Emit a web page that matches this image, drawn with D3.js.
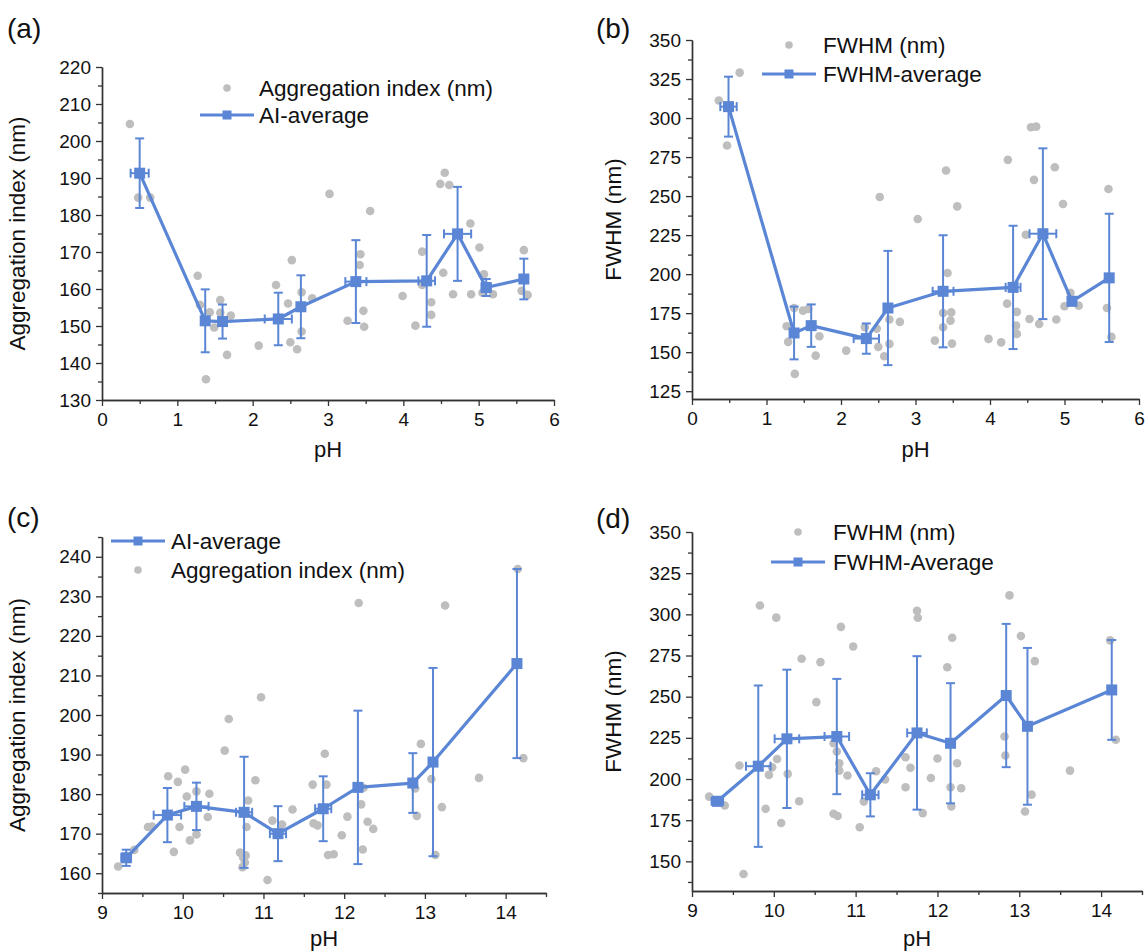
<!DOCTYPE html>
<html>
<head>
<meta charset="utf-8">
<script src="https://cdn.jsdelivr.net/npm/d3@7"></script>
<style>
  body { margin: 0; background: #fff; }
  svg { font-family: "Liberation Sans", Arial, sans-serif; }
</style>
</head>
<body>
<svg id="fig" width="1145" height="952"></svg>
<script>
// ---------- (a) aggregation index, acidic range ----------
const aScatX = [0.37,0.48,0.64,1.27,1.3,1.43,1.49,1.38,1.57,1.57,1.71,1.66,2.08,2.31,2.52,2.47,2.5,2.59,2.65,2.65,2.79,3.02,3.56,3.43,3.42,3.47,3.48,3.26,3.99,4.16,4.25,4.25,4.37,4.37,4.53,4.55,4.49,4.61,4.66,4.89,5.01,4.9,5.07,5.05,5.19,5.6,5.57,5.65];
const aScatY = [204.6,184.7,184.7,163.6,155.7,153.7,149.6,135.6,157,153.6,152.8,142.2,144.7,161.1,167.8,156.1,145.6,143.7,159.1,148.5,157.5,185.7,181.1,169.4,166.5,154.1,149.8,151.4,158.1,150.1,170.1,161.1,156.4,153,164.4,191.4,188.4,188.1,158.6,177.7,171.2,158.6,164,159,158.6,170.5,159.5,158.4];
const aMeanX = [0.5,1.37,1.6,2.34,2.64,3.37,4.31,4.72,5.1,5.6];
const aSdX   = [0.12,0.05,0.05,0.18,0.05,0.14,0.11,0.18,0.06,0.03];
const aMeanY = [191.3,151.4,151.2,151.9,155.2,162,162.2,174.9,160.4,162.7];
const aSdY   = [9.4,8.5,4.6,7.1,8.5,11.2,12.4,12.7,2.3,5.5];

// ---------- (b) FWHM, acidic range ----------
const bScatX = [0.64,0.36,0.47,1.37,1.27,1.29,1.38,1.49,1.56,1.71,1.66,2.07,2.32,2.48,2.5,2.58,2.65,2.65,2.79,2.52,3.03,3.41,3.56,3.43,3.37,3.48,3.47,3.37,3.26,3.49,3.98,4.15,4.24,4.23,4.36,4.35,4.36,4.48,4.55,4.62,4.59,4.53,4.66,4.87,4.98,4.89,5.0,5.19,5.08,5.59,5.57,5.63];
const bScatY = [329.1,311.2,282.4,178.3,166.6,156.6,136.1,176.6,177.7,160.2,147.8,151,166,165.1,153.4,147.4,155.3,170.9,169.4,249.4,235.3,266.4,243.4,200.7,175.1,175.5,170.2,166,157.4,155.5,158.5,156.3,273.2,181.1,175.8,167,161.7,225.2,294.1,294.5,260.4,171.3,168.1,268.5,244.9,170.9,179.4,179.8,188,254.5,178.3,159.8];
const bMeanX = [0.49,1.37,1.6,2.34,2.63,3.37,4.31,4.71,5.1,5.6];
const bSdX   = [0.11,0.05,0.05,0.17,0.04,0.14,0.1,0.18,0.05,0.03];
const bMeanY = [307.3,162.3,167,158.7,178.3,189,191.5,225.9,182.6,197.6];
const bSdY   = [19.2,16.9,13.6,9.7,36.6,35.9,39.5,54.7,2.5,41.1];

// ---------- (c) aggregation index, alkaline range ----------
const cScatX = [9.2,9.4,9.57,9.62,9.82,9.89,9.94,9.96,10.03,10.05,10.09,10.17,10.17,10.31,10.33,10.52,10.57,10.71,10.75,10.77,10.81,10.79,10.9,10.97,11.05,11.11,11.23,11.36,11.61,11.62,11.67,11.76,11.78,11.8,12.04,11.97,11.87,12.18,12.21,12.23,12.29,12.36,12.24,12.88,12.9,12.95,13.08,13.13,13.21,13.25,13.67,14.15,14.22,10.74,10.78];
const cScatY = [161.7,165.9,171.7,171.8,184.5,165.4,183.1,171.7,186.2,179.4,168.3,169.8,180.7,174.2,180.1,191,199,165.2,163.9,162.7,178.4,171.7,183.5,204.5,158.3,173.3,172.3,176.1,182.4,172.6,172.1,190.2,182.4,164.6,174.3,169.6,164.8,228.3,177.4,166,173,171.2,181.6,181.4,174.5,192.7,183.8,164.6,176.7,227.7,184.1,236.9,189.1,161.5,164.5];
const cMeanX = [9.3,9.81,10.17,10.76,11.18,11.74,12.17,12.85,13.1,14.14];
const cSdX   = [0.06,0.17,0.15,0.1,0.1,0.1,0.03,0.03,0.03,0.03];
const cMeanY = [163.9,174.7,176.9,175.4,170,176.3,181.7,182.8,188.1,213];
const cSdY   = [2.05,6.85,6,14.05,6.95,8.2,19.4,7.55,23.8,23.9];

// ---------- (d) FWHM, alkaline range ----------
const dScatX = [9.21,9.4,9.58,9.63,9.83,9.9,9.94,9.98,10.03,10.04,10.09,10.17,10.31,10.34,10.52,10.57,10.73,10.77,10.8,10.8,10.82,10.9,10.73,10.78,10.97,11.05,11.1,11.25,11.36,11.61,11.67,11.61,11.75,11.76,11.82,11.92,12.0,12.12,12.18,12.24,12.16,12.29,12.17,12.88,12.82,12.83,13.02,13.19,13.15,13.07,13.62,14.11,14.18];
const dScatY = [189.3,183.9,208.2,142.3,305.4,181.9,202.5,207.1,298,212.2,173.3,203.1,186.5,273,246.7,271,221.7,216.7,209.6,205.1,292.4,202.1,178.9,177.5,280.5,170.7,186.3,204.7,199.7,213.2,206.8,195,302.2,297.9,179.3,200.6,212.5,267.9,285.8,209.6,195,194.4,183.4,311.5,225.8,214.3,286.8,271.6,190.5,180.3,205.1,284.2,223.8];
const dMeanX = [9.31,9.81,10.16,10.77,11.18,11.75,12.16,12.84,13.1,14.13];
const dSdX   = [0.07,0.15,0.15,0.15,0.1,0.12,0.04,0.03,0.03,0.03];
const dMeanY = [186.5,207.8,224.4,225.8,190.4,228,221.7,250.7,232,254.1];
const dSdY   = [2.5,49,42,35,13.1,46.6,36.5,43.5,47.6,30.3];

// ---------- tick values ----------
const xTicksAcid = [0,1,2,3,4,5,6];
const xTicksBase = [9,10,11,12,13,14];
const yTicksAI_a = [130,140,150,160,170,180,190,200,210,220];
const yTicksAI_c = [160,170,180,190,200,210,220,230,240];
const yTicksFWHM_b = [125,150,175,200,225,250,275,300,325,350];
const yTicksFWHM_d = [150,175,200,225,250,275,300,325,350];

// ---------- legend texts ----------
const legendA = ["Aggregation index (nm)", "AI-average"];
const legendB = ["FWHM (nm)", "FWHM-average"];
const legendC = ["AI-average", "Aggregation index (nm)"];
const legendD = ["FWHM (nm)", "FWHM-Average"];

const BLUE = "#5A86D5";
const GREY = "#BEBEBE";
const AXIS = "#333";
const svg = d3.select("#fig");

function minorBetween(major, step) {
  const out = [];
  major.forEach(v => out.push(v + step / 2));
  out.unshift(major[0] - step / 2);
  return out;
}

function drawPanel(cfg) {
  const g = svg.append("g");
  const x = d3.scaleLinear().domain(cfg.xDomain).range([cfg.box.x0, cfg.box.x1]);
  const y = d3.scaleLinear().domain(cfg.yDomain).range([cfg.box.y1, cfg.box.y0]);
  const inX = v => v >= cfg.xDomain[0] - 1e-9 && v <= cfg.xDomain[1] + 1e-9;
  const inY = v => v >= cfg.yDomain[0] - 1e-9 && v <= cfg.yDomain[1] + 1e-9;

  // axes: minor ticks first, then labelled major ticks
  const xMinor = minorBetween(cfg.xTicks, cfg.xStep).filter(inX);
  const yMinor = minorBetween(cfg.yTicks, cfg.yStep).filter(inY);

  const gx = g.append("g").attr("transform", `translate(0,${cfg.box.y1})`);
  gx.append("g").call(d3.axisBottom(x).tickValues(xMinor).tickSize(4).tickSizeOuter(0).tickFormat(""));
  gx.append("g").call(d3.axisBottom(x).tickValues(cfg.xTicks).tickSize(6).tickSizeOuter(0).tickPadding(7).tickFormat(d3.format("d")));

  const gy = g.append("g").attr("transform", `translate(${cfg.box.x0},0)`);
  gy.append("g").call(d3.axisLeft(y).tickValues(yMinor).tickSize(4).tickSizeOuter(0).tickFormat(""));
  gy.append("g").call(d3.axisLeft(y).tickValues(cfg.yTicks).tickSize(6).tickSizeOuter(0).tickPadding(5).tickFormat(d3.format("d")));

  g.selectAll(".domain").attr("stroke", AXIS).attr("stroke-width", 1.4);
  g.selectAll(".tick line").attr("stroke", AXIS).attr("stroke-width", 1.3);
  g.selectAll(".tick text").attr("fill", "#111").style("font-size", "19px")
    .style("font-family", '"Liberation Sans", Arial, sans-serif');

  // axis titles
  g.append("text").attr("x", (cfg.box.x0 + cfg.box.x1) / 2).attr("y", cfg.xTitleY)
    .attr("text-anchor", "middle").attr("dominant-baseline", "central")
    .style("font-size", "22px").attr("fill", "#111").text("pH");
  g.append("text")
    .attr("transform", `translate(${cfg.yTitleX},${(cfg.box.y0 + cfg.box.y1) / 2}) rotate(-90)`)
    .attr("text-anchor", "middle").attr("dominant-baseline", "central")
    .style("font-size", "22.5px").attr("fill", "#111").text(cfg.yTitle);

  // panel letter
  g.append("text").attr("x", cfg.letterPos[0]).attr("y", cfg.letterPos[1])
    .attr("dominant-baseline", "central").style("font-size", "28px").attr("fill", "#111").text(cfg.letter);

  // individual measurements
  g.append("g").selectAll("circle").data(cfg.scatX.map((v, i) => [v, cfg.scatY[i]]))
    .join("circle").attr("cx", d => x(d[0])).attr("cy", d => y(d[1])).attr("r", 4.3)
    .attr("fill", GREY);

  // averages with error bars
  const pts = cfg.meanX.map((v, i) => ({ x: v, y: cfg.meanY[i], sx: cfg.sdX[i], sy: cfg.sdY[i] }));
  g.append("path").datum(pts)
    .attr("d", d3.line().x(d => x(d.x)).y(d => y(d.y)))
    .attr("fill", "none").attr("stroke", BLUE).attr("stroke-width", 3.2).attr("stroke-linejoin", "round");

  const eb = g.append("g").attr("stroke", BLUE).attr("stroke-width", 2).attr("fill", "none");
  const cap = 4.5;
  pts.forEach(p => {
    const cx = x(p.x), cy = y(p.y);
    const yt = y(p.y + p.sy), yb = y(p.y - p.sy);
    eb.append("line").attr("x1", cx).attr("x2", cx).attr("y1", yt).attr("y2", yb);
    eb.append("line").attr("x1", cx - cap).attr("x2", cx + cap).attr("y1", yt).attr("y2", yt);
    eb.append("line").attr("x1", cx - cap).attr("x2", cx + cap).attr("y1", yb).attr("y2", yb);
    const xl = x(p.x - p.sx), xr = x(p.x + p.sx);
    eb.append("line").attr("x1", xl).attr("x2", xr).attr("y1", cy).attr("y2", cy);
    eb.append("line").attr("x1", xl).attr("x2", xl).attr("y1", cy - cap).attr("y2", cy + cap);
    eb.append("line").attr("x1", xr).attr("x2", xr).attr("y1", cy - cap).attr("y2", cy + cap);
  });
  const sq = 11;
  g.append("g").selectAll("rect").data(pts).join("rect")
    .attr("x", d => x(d.x) - sq / 2).attr("y", d => y(d.y) - sq / 2)
    .attr("width", sq).attr("height", sq).attr("fill", BLUE);

  // legend
  const lg = g.append("g");
  cfg.legend.forEach((item, i) => {
    const ly = cfg.legendY[i];
    if (item.kind === "dot") {
      lg.append("circle").attr("cx", cfg.legendMarkX).attr("cy", ly).attr("r", 3.8).attr("fill", GREY);
    } else {
      lg.append("line").attr("x1", cfg.legendMarkX - 27).attr("x2", cfg.legendMarkX + 27)
        .attr("y1", ly).attr("y2", ly).attr("stroke", BLUE).attr("stroke-width", 3.2);
      lg.append("rect").attr("x", cfg.legendMarkX - 4.5).attr("y", ly - 4.5)
        .attr("width", 9).attr("height", 9).attr("fill", BLUE);
    }
    lg.append("text").attr("x", cfg.legendTextX).attr("y", ly).attr("dominant-baseline", "central")
      .style("font-size", "22.5px").attr("fill", "#111").text(item.text);
  });
}

drawPanel({
  letter: "(a)", letterPos: [7, 28],
  box: { x0: 102, x1: 554, y0: 67, y1: 400 },
  xDomain: [0, 6], yDomain: [130, 220], xTicks: xTicksAcid, xStep: 1, yTicks: yTicksAI_a, yStep: 10,
  xTitleY: 449, yTitleX: 17, yTitle: "Aggregation index (nm)",
  scatX: aScatX, scatY: aScatY, meanX: aMeanX, meanY: aMeanY, sdX: aSdX, sdY: aSdY,
  legend: [{ kind: "dot", text: legendA[0] }, { kind: "line", text: legendA[1] }],
  legendY: [88, 115], legendMarkX: 227, legendTextX: 259
});

drawPanel({
  letter: "(b)", letterPos: [596, 28],
  box: { x0: 692, x1: 1139, y0: 40, y1: 399 },
  xDomain: [0, 6], yDomain: [120, 350], xTicks: xTicksAcid, xStep: 1, yTicks: yTicksFWHM_b, yStep: 25,
  xTitleY: 449, yTitleX: 613, yTitle: "FWHM (nm)",
  scatX: bScatX, scatY: bScatY, meanX: bMeanX, meanY: bMeanY, sdX: bSdX, sdY: bSdY,
  legend: [{ kind: "dot", text: legendB[0] }, { kind: "line", text: legendB[1] }],
  legendY: [45, 74], legendMarkX: 789, legendTextX: 823
});

drawPanel({
  letter: "(c)", letterPos: [7, 517],
  box: { x0: 102, x1: 546, y0: 537, y1: 893 },
  xDomain: [9, 14.5], yDomain: [155, 245], xTicks: xTicksBase, xStep: 1, yTicks: yTicksAI_c, yStep: 10,
  xTitleY: 938, yTitleX: 17, yTitle: "Aggregation index (nm)",
  scatX: cScatX, scatY: cScatY, meanX: cMeanX, meanY: cMeanY, sdX: cSdX, sdY: cSdY,
  legend: [{ kind: "line", text: legendC[0] }, { kind: "dot", text: legendC[1] }],
  legendY: [541, 570], legendMarkX: 138, legendTextX: 171
});

drawPanel({
  letter: "(d)", letterPos: [596, 518],
  box: { x0: 692, x1: 1142, y0: 532, y1: 891 },
  xDomain: [9, 14.5], yDomain: [132, 350], xTicks: xTicksBase, xStep: 1, yTicks: yTicksFWHM_d, yStep: 25,
  xTitleY: 938, yTitleX: 613, yTitle: "FWHM (nm)",
  scatX: dScatX, scatY: dScatY, meanX: dMeanX, meanY: dMeanY, sdX: dSdX, sdY: dSdY,
  legend: [{ kind: "dot", text: legendD[0] }, { kind: "line", text: legendD[1] }],
  legendY: [532, 562], legendMarkX: 798, legendTextX: 833
});
</script>
</body>
</html>
